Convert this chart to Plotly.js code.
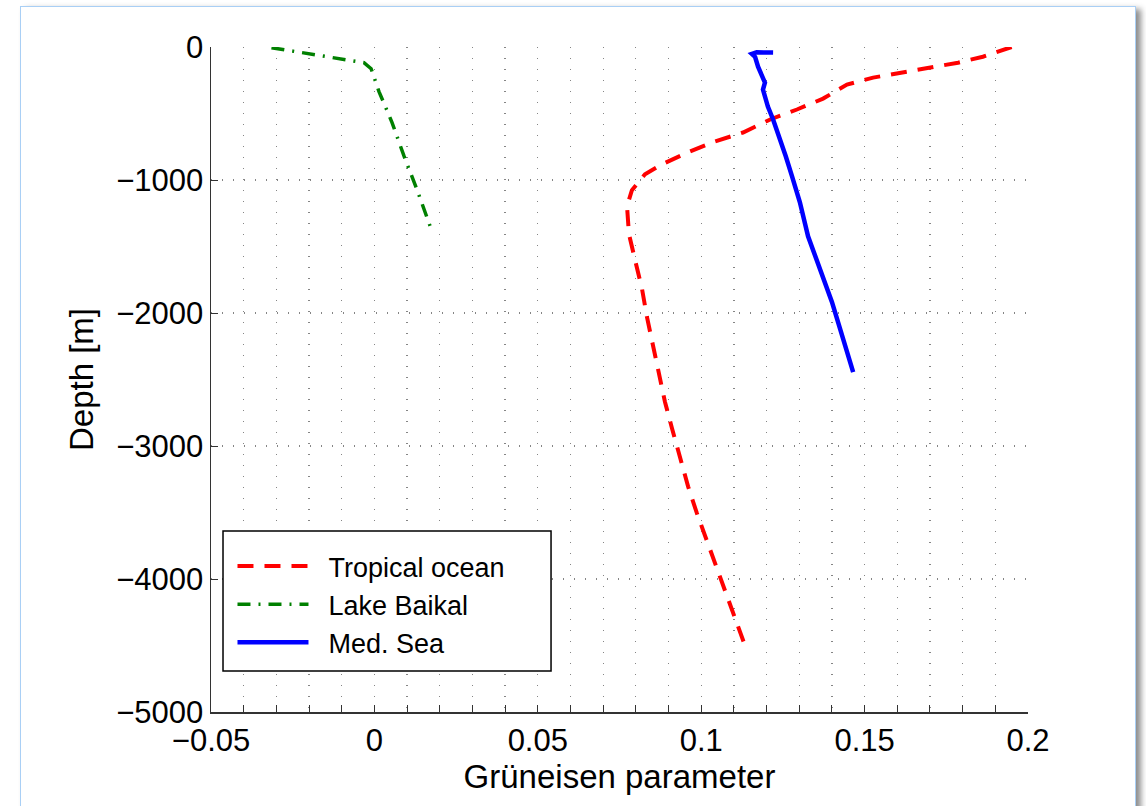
<!DOCTYPE html>
<html>
<head>
<meta charset="utf-8">
<script src="https://cdn.plot.ly/plotly-3.0.1.min.js"></script>
<style>
  html, body { margin: 0; padding: 0; background: #ffffff; }
  body { width: 1146px; height: 806px; position: relative; overflow: hidden; }
  #frame {
    position: absolute; left: 20px; top: 6px; width: 1114px; height: 900px;
    border: 1px solid #a9cff5; background: #ffffff;
    box-shadow: 5px 3px 6px rgba(0,0,0,0.45);
  }
  #chart { position: absolute; left: 0; top: 0; width: 1146px; height: 806px; }
</style>
</head>
<body>
<div id="frame"></div>
<div id="chart"></div>
<script>
// Grüneisen parameter profiles versus depth
const tropicalGamma = [0.195, 0.1862, 0.1786, 0.1700, 0.1614, 0.1526, 0.1446, 0.1373, 0.1293, 0.1211, 0.1128, 0.1042, 0.0966, 0.0880, 0.0828, 0.0788, 0.0773, 0.0776, 0.0779, 0.0797, 0.0819, 0.0834, 0.0853, 0.0871, 0.0889, 0.0911, 0.0935, 0.0960, 0.0987, 0.1018, 0.1048, 0.1079, 0.1110, 0.1131];
const tropicalDepth = [0, -73, -118, -155, -185, -230, -283, -388, -470, -545, -643, -710, -785, -882, -957, -1077, -1197, -1280, -1407, -1595, -1820, -2030, -2247, -2442, -2667, -2870, -3095, -3305, -3507, -3717, -3920, -4122, -4332, -4480];

const baikalGamma = [-0.0315, -0.0243, -0.0136, -0.0032, -0.0010, 0.0014, 0.0054, 0.0091, 0.0130, 0.0176];
const baikalDepth = [-5, -35, -73, -118, -163, -335, -568, -823, -1070, -1385];

const medGamma = [0.1220, 0.1195, 0.1170, 0.1155, 0.1160, 0.1165, 0.1174, 0.1189, 0.1195, 0.1189, 0.1195, 0.1204, 0.1220, 0.1235, 0.1250, 0.1259, 0.1278, 0.1302, 0.1327, 0.1342, 0.1373, 0.1400, 0.1425, 0.1465];
const medDepth = [-42, -38, -40, -52, -62, -75, -148, -223, -268, -320, -373, -448, -545, -643, -748, -823, -973, -1168, -1423, -1520, -1722, -1917, -2120, -2445];

const seriesNames = ['Tropical ocean', 'Lake Baikal', 'Med. Sea'];

const xTickVals = [-0.05, 0, 0.05, 0.1, 0.15, 0.2];
const xTickText = ['\u22120.05', '0', '0.05', '0.1', '0.15', '0.2'];
const yTickVals = [-5000, -4000, -3000, -2000, -1000, 0];
const yTickText = ['\u22125000', '\u22124000', '\u22123000', '\u22122000', '\u22121000', '0'];

const FONT = '"Liberation Sans", Arial, Helvetica, sans-serif';
// non-breaking spaces widen the gap between legend sample line and label
const PAD = '\u00a0\u00a0';

const traces = [
  {
    x: tropicalGamma, y: tropicalDepth, name: PAD + seriesNames[0], mode: 'lines',
    line: { color: 'rgb(255,0,0)', width: 4, dash: '16px,11px' }
  },
  {
    x: baikalGamma, y: baikalDepth, name: PAD + seriesNames[1], mode: 'lines',
    line: { color: 'rgb(0,128,0)', width: 3.5, dash: '13px,8px,2px,8px' }
  },
  {
    x: medGamma, y: medDepth, name: PAD + seriesNames[2], mode: 'lines',
    line: { color: 'rgb(0,0,255)', width: 4.5 }
  }
];

const gridStyle = { showgrid: true, gridcolor: '#858585', gridwidth: 1.3, griddash: '1.3px,9.7px' };

const layout = {
  width: 1146, height: 806,
  paper_bgcolor: 'rgba(0,0,0,0)', plot_bgcolor: 'rgba(0,0,0,0)',
  margin: { l: 211, r: 118, t: 47, b: 94, pad: 0 },
  font: { family: FONT, color: '#000000', size: 31 },
  showlegend: true,
  legend: {
    x: 0.0263, y: 0.2556, xanchor: 'left', yanchor: 'top',
    bgcolor: 'rgba(0,0,0,0)', borderwidth: 0,
    font: { family: FONT, size: 27, color: '#000000' },
    itemwidth: 71, tracegroupgap: 0
  },
  // legend frame
  shapes: [{
    type: 'rect', xref: 'paper', yref: 'paper', layer: 'above',
    x0: 0.0147, x1: 0.4162, y0: 0.0617, y1: 0.2722,
    line: { color: '#000000', width: 1.5 }, fillcolor: '#ffffff'
  }],
  xaxis: Object.assign({
    range: [-0.05, 0.2], tickmode: 'array', tickvals: xTickVals, ticktext: xTickText,
    showline: true, linecolor: '#333333', linewidth: 1.5, mirror: false,
    ticks: 'inside', ticklen: 7, tickcolor: '#333333', tickwidth: 1,
    zeroline: false,
    minor: Object.assign({ dtick: 0.01, tick0: 0, ticks: 'inside', ticklen: 7, tickcolor: '#333333' }, gridStyle),
    tickfont: { family: FONT, size: 31 },
    title: { text: 'Grüneisen parameter', font: { family: FONT, size: 33 }, standoff: 0 }
  }, gridStyle),
  yaxis: Object.assign({
    range: [-5000, 0], tickmode: 'array', tickvals: yTickVals, ticktext: yTickText,
    showline: true, linecolor: '#333333', linewidth: 1.5, mirror: false,
    ticks: 'inside', ticklen: 7, tickcolor: '#333333', tickwidth: 1,
    zeroline: false,
    tickfont: { family: FONT, size: 31 },
    title: { text: 'Depth [m]', font: { family: FONT, size: 33 }, standoff: 12 }
  }, gridStyle)
};

Plotly.newPlot('chart', traces, layout, { displayModeBar: false, staticPlot: true });
</script>
</body>
</html>
